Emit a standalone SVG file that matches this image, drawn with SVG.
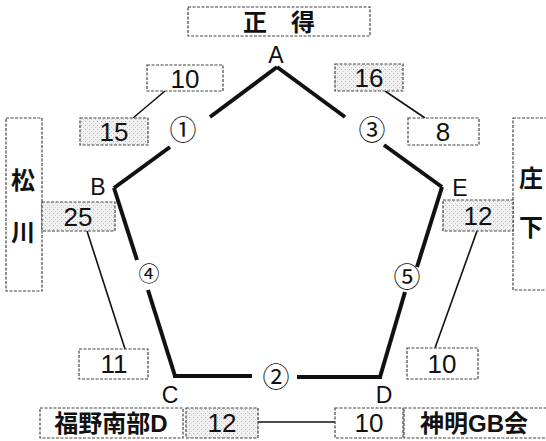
<svg xmlns="http://www.w3.org/2000/svg" width="546" height="441" viewBox="0 0 546 441">
<defs>
<pattern id="dots" width="4" height="4" patternUnits="userSpaceOnUse">
<rect width="4" height="4" fill="#f1f1f1"/>
<rect x="1" y="1" width="1" height="1" fill="#b5b5b5"/>
<rect x="3" y="3" width="1" height="1" fill="#cfcfcf"/>
</pattern>
</defs>
<style>
.box{fill:#fff;stroke:#444;stroke-width:1.2;stroke-dasharray:3 1.5}
.dot{fill:url(#dots);stroke:#444;stroke-width:1.2;stroke-dasharray:3 1.5}
.edge{stroke:#111;stroke-width:4;fill:none;stroke-linecap:butt}
.con{stroke:#111;stroke-width:1.6;fill:none}
.num{font-family:"Liberation Sans",Arial,sans-serif;font-size:26px;fill:#111;text-anchor:middle}
.lbl{font-family:"Liberation Sans",Arial,sans-serif;font-size:23px;fill:#111;text-anchor:middle}
.cj{font-family:"Liberation Sans","Noto Sans CJK JP",sans-serif;font-size:24px;font-weight:bold;fill:#111;text-anchor:middle}
.cir{font-family:"Noto Sans CJK JP","DejaVu Sans",sans-serif;font-size:27px;fill:#111;text-anchor:middle}
</style>
<rect width="546" height="441" fill="#fff"/>
<g id="connectors">
<line class="edge" x1="277" y1="67" x2="210" y2="117"/>
<line class="edge" x1="170" y1="147" x2="114" y2="188"/>
<line class="edge" x1="114" y1="188" x2="137" y2="260"/>
<line class="edge" x1="148" y1="290" x2="175" y2="376"/>
<line class="edge" x1="173" y1="376" x2="252" y2="376"/>
<line class="edge" x1="297" y1="377" x2="382" y2="377"/>
<line class="edge" x1="380" y1="377" x2="405" y2="292"/>
<line class="edge" x1="417" y1="267" x2="442" y2="187"/>
<line class="edge" x1="442" y1="187" x2="384" y2="145"/>
<line class="edge" x1="345" y1="117" x2="277" y2="67"/>
<line class="con" x1="165" y1="91" x2="133" y2="118"/>
<line class="con" x1="385" y1="91" x2="425" y2="118"/>
<line class="con" x1="87" y1="231" x2="125" y2="349"/>
<line class="con" x1="477" y1="231" x2="435" y2="348"/>
<line class="con" x1="258" y1="422" x2="335" y2="422"/>
</g>
<g id="vertexA"><text class="lbl" x="276" y="63">A</text></g>
<g id="vertexB"><text class="lbl" x="98" y="195">B</text></g>
<g id="vertexC"><text class="lbl" x="170" y="403">C</text></g>
<g id="vertexD"><text class="lbl" x="384" y="403">D</text></g>
<g id="vertexE"><text class="lbl" x="460" y="196">E</text></g>
<g id="edge1"><text class="cir" x="183" y="140">①</text></g>
<g id="edge2"><text class="cir" x="276" y="387">②</text></g>
<g id="edge3"><text class="cir" x="372" y="140">③</text></g>
<g id="edge4"><text class="cir" x="149" y="281" style="font-size:21px">④</text></g>
<g id="edge5"><text class="cir" x="407" y="287">⑤</text></g>
<g id="teamA"><rect class="box" x="188" y="7" width="182" height="29"/><text class="cj" x="255" y="31">正</text><text class="cj" x="303" y="31">得</text></g>
<g id="scoreA1"><rect class="box" x="147" y="65" width="76" height="26"/><text class="num" x="185" y="88">10</text></g>
<g id="scoreB1"><rect class="dot" x="80" y="118" width="68" height="27"/><text class="num" x="114" y="141">15</text></g>
<g id="scoreA3"><rect class="dot" x="335" y="64" width="68" height="27"/><text class="num" x="369" y="87">16</text></g>
<g id="scoreE3"><rect class="box" x="408" y="118" width="71" height="27"/><text class="num" x="443" y="141">8</text></g>
<g id="teamB"><rect class="box" x="6" y="118" width="36" height="173"/><text class="cj" x="23" y="189">松</text><text class="cj" x="23" y="241">川</text></g>
<g id="scoreB4"><rect class="dot" x="42" y="202" width="73" height="29"/><text class="num" x="78" y="226">25</text></g>
<g id="scoreC4"><rect class="box" x="79" y="349" width="69" height="30"/><text class="num" x="114" y="373">11</text></g>
<g id="teamE"><rect class="box" x="513" y="118" width="40" height="172"/><text class="cj" x="531" y="187">庄</text><text class="cj" x="531" y="236">下</text></g>
<g id="scoreE5"><rect class="dot" x="443" y="200" width="70" height="31"/><text class="num" x="478" y="225">12</text></g>
<g id="scoreD5"><rect class="box" x="407" y="348" width="71" height="31"/><text class="num" x="442" y="373">10</text></g>
<g id="teamC"><rect class="box" x="40" y="408" width="143" height="30"/><text class="cj" x="111" y="432">福野南部D</text></g>
<g id="scoreC2"><rect class="dot" x="186" y="408" width="72" height="30"/><text class="num" x="222" y="432">12</text></g>
<g id="scoreD2"><rect class="box" x="335" y="408" width="68" height="30"/><text class="num" x="369" y="432">10</text></g>
<g id="teamD"><rect class="box" x="404" y="408" width="150" height="30"/><text class="cj" x="474" y="432">神明GB会</text></g>
</svg>
